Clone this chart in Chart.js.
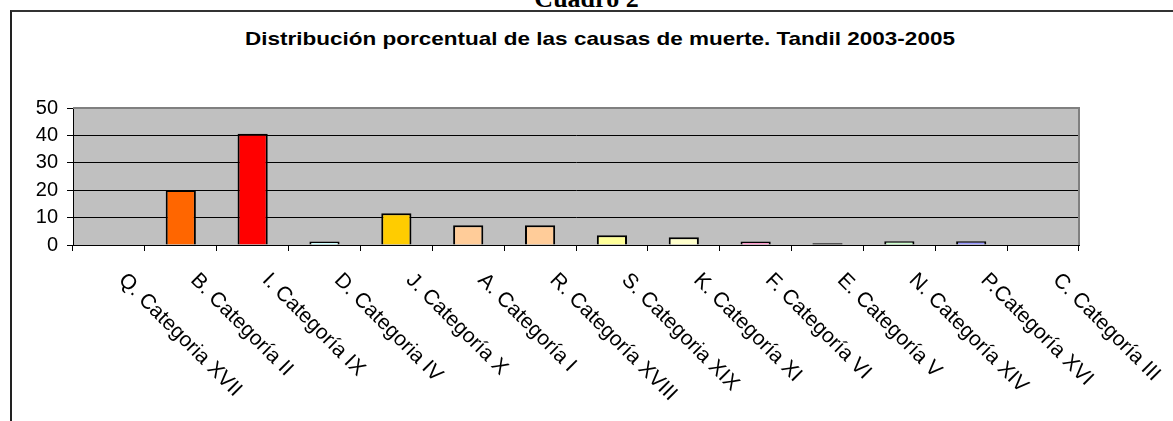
<!DOCTYPE html>
<html>
<head>
<meta charset="utf-8">
<script src="https://cdn.jsdelivr.net/npm/chart.js@4"></script>
<style>
  body { margin: 0; background: #fff; }
  #wrap { position: relative; width: 1173px; height: 421px; overflow: hidden; }
  #frame { position: absolute; left: 10px; top: 10px; width: 1200px; height: 500px;
           border-left: 2px solid #222; border-top: 2px solid #333; }
  #cuadro { position: absolute; left: 0; width: 1173px; top: -13px; text-align: center;
            font: bold 26px "Liberation Serif", "Times New Roman", serif; line-height: 24px; }
  #title { position: absolute; left: 0; width: 1200px; top: 26px; height: 26px; text-align: center;
           font: bold 22.5px "Liberation Sans", Arial, sans-serif; line-height: 26px;
           transform: scaleY(0.8); }
  canvas { position: absolute; left: 0; top: 0; }
</style>
</head>
<body>
<div id="wrap">
  <div id="frame"></div>
  <div id="cuadro">Cuadro 2</div>
  <div id="title">Distribución porcentual de las causas de muerte. Tandil 2003-2005</div>
  <canvas id="causasChart" width="1173" height="421"></canvas>
</div>
<script>
// categories and values (percent)
const categories = [
  'Q. Categoria XVII', 'B. Categoría II', 'I. Categoría IX', 'D. Categoria IV',
  'J. Categoría X', 'A. Categoría I', 'R. Categoría XVIII', 'S. Categoria XIX',
  'K. Categoría XI', 'F. Categoría VI', 'E. Categoría V', 'N. Categoría XIV',
  'P.Categoría XVI', 'C. Categoría III'
];
const percentages = [0, 20.1, 40.6, 1.3, 11.6, 7.2, 7.2, 3.6, 2.8, 1.3, 0.6, 1.4, 1.4, 0];
const barColors = [
  '#ffffff', '#ff6600', '#ff0000', '#ccffff', '#ffcc00', '#ffcc99', '#ffcc99',
  '#ffff99', '#ffffcc', '#ff99cc', '#000000', '#ccffcc', '#9999ff', '#ffffff'
];
const yTicks = [0, 10, 20, 30, 40, 50];

// grey plot background + grey top/right border like the spreadsheet chart
const plotArea = {
  id: 'plotArea',
  beforeDraw(chart) {
    const { ctx, chartArea: a } = chart;
    ctx.save();
    ctx.fillStyle = '#c0c0c0';
    ctx.fillRect(a.left, a.top, a.right - a.left, a.bottom - a.top);
    ctx.restore();
  },
  afterDraw(chart) {
    const { ctx, chartArea: a } = chart;
    ctx.save();
    ctx.strokeStyle = '#808080';
    ctx.lineWidth = 2;
    ctx.beginPath();
    ctx.moveTo(a.left, a.top);
    ctx.lineTo(a.right, a.top);
    ctx.lineTo(a.right, a.bottom);
    ctx.stroke();
    ctx.restore();
  }
};

// x labels run downwards to the right, starting at the category
const slantedLabels = {
  id: 'slantedLabels',
  afterDraw(chart) {
    const { ctx } = chart;
    const xScale = chart.scales.x;
    ctx.save();
    ctx.fillStyle = '#000';
    ctx.font = '21px "Liberation Sans", Arial, sans-serif';
    ctx.textAlign = 'left';
    ctx.textBaseline = 'middle';
    categories.forEach((label, i) => {
      const x = xScale.getPixelForValue(i);
      ctx.save();
      ctx.translate(x + 13, xScale.top + 32);
      ctx.rotate(Math.PI / 4);
      ctx.fillText(label, 0, 0);
      ctx.restore();
    });
    ctx.restore();
  }
};

new Chart(document.getElementById('causasChart'), {
  type: 'bar',
  data: {
    labels: categories,
    datasets: [
      {
        data: percentages,
        backgroundColor: barColors,
        borderColor: '#000',
        borderWidth: 2,
        barPercentage: 0.42,
        categoryPercentage: 1,
      },
    ],
  },
  options: {
    responsive: false,
    animation: false,
    layout: { padding: { left: 0, right: 94, top: 108, bottom: 170 } },
    plugins: { legend: { display: false }, title: { display: false }, tooltip: { enabled: false } },
    scales: {
      x: {
        offset: true,
        grid: { offset: true, drawOnChartArea: false, color: '#000', tickLength: 6 },
        border: { color: '#000', width: 1 },
        ticks: { display: false },
      },
      y: {
        min: 0,
        max: 50,
        afterBuildTicks: (scale) => { scale.ticks = yTicks.map((v) => ({ value: v })); },
        afterFit: (scale) => { scale.width = 73; },
        grid: { color: '#000', tickLength: 6 },
        border: { color: '#000', width: 1 },
        ticks: {
          color: '#000',
          padding: 9,
          font: { family: '"Liberation Sans", Arial, sans-serif', size: 20 },
        },
      },
    },
  },
  plugins: [plotArea, slantedLabels],
});
</script>
</body>
</html>
